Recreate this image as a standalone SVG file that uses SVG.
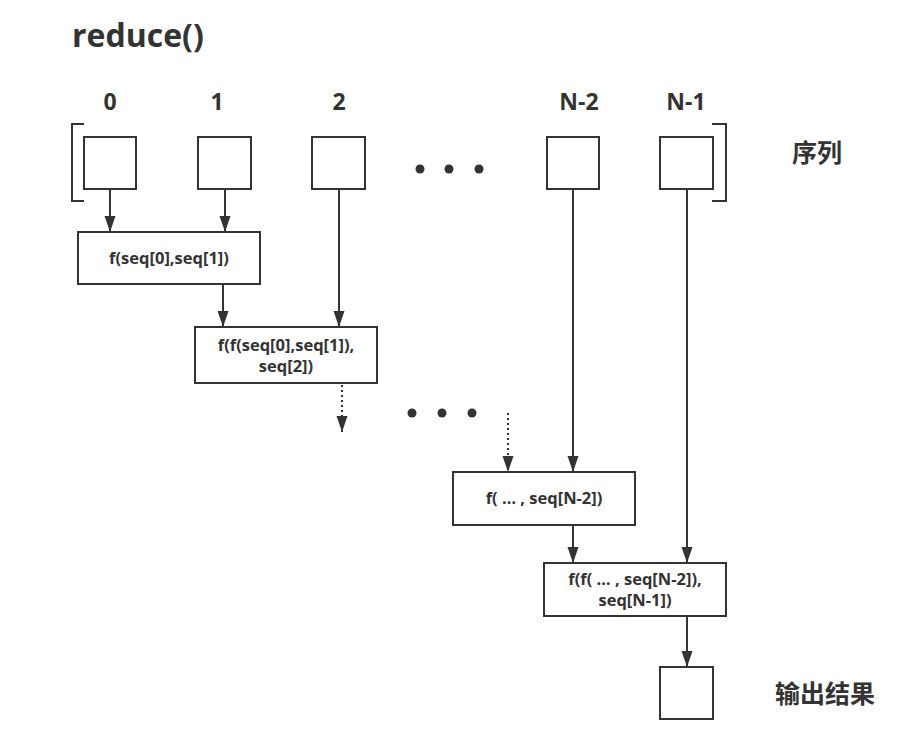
<svg xmlns="http://www.w3.org/2000/svg" width="910" height="752" viewBox="0 0 910 752">
<style>
.box{fill:#fff;stroke:#333;stroke-width:2}
.ln{fill:none;stroke:#333;stroke-width:2}
.dot{fill:none;stroke:#333;stroke-width:2;stroke-dasharray:2 3}
.t{font-family:"Open Sans","Noto Sans CJK SC",sans-serif;font-weight:bold;fill:#333;text-anchor:middle}
.idx{font-size:23px}
.bt{font-size:16.5px}
.cjk{font-family:"Noto Sans CJK SC",sans-serif;font-weight:bold;fill:#333;font-size:25px}
</style>
<defs>
<marker id="ah" markerUnits="userSpaceOnUse" markerWidth="17" markerHeight="12" refX="16" refY="6" orient="auto" viewBox="0 0 17 12">
<path d="M0,0.5 L16,6 L0,11.5 Z" fill="#333"/>
</marker>
</defs>
<rect width="910" height="752" fill="#fff"/>
<text x="72" y="47" font-family="Open Sans, sans-serif" font-weight="bold" font-size="32" fill="#333">reduce()</text>
<g id="labels">
<text class="t idx" x="110" y="110">0</text>
<text class="t idx" x="217" y="110">1</text>
<text class="t idx" x="339" y="110">2</text>
<text class="t idx" x="579" y="110">N-2</text>
<text class="t idx" x="686" y="110">N-1</text>
<text class="cjk" x="792" y="162">序列</text>
<text class="cjk" x="775" y="703" font-size="28">输出结果</text>
</g>
<g id="brackets">
<path class="ln" d="M84,124 H72 V201 H84"/>
<path class="ln" d="M712,124 H726 V201 H712"/>
</g>
<g id="seq0"><rect class="box" x="84" y="137" width="52" height="52"/></g>
<g id="seq1"><rect class="box" x="198" y="137" width="53" height="52"/></g>
<g id="seq2"><rect class="box" x="312" y="137" width="53" height="52"/></g>
<g id="seqN2"><rect class="box" x="547" y="137" width="52" height="52"/></g>
<g id="seqN1"><rect class="box" x="660" y="137" width="53" height="52"/></g>
<g id="ellipsis1" fill="#333">
<circle cx="420" cy="169" r="4.5"/><circle cx="449" cy="169" r="4.5"/><circle cx="479" cy="169" r="4.5"/>
</g>
<g id="ellipsis2" fill="#333">
<circle cx="412" cy="413" r="4.5"/><circle cx="442" cy="413" r="4.5"/><circle cx="472" cy="413" r="4.5"/>
</g>
<g id="f1"><rect class="box" x="78" y="232" width="182" height="52"/>
<text class="t bt" x="169" y="264">f(seq[0],seq[1])</text></g>
<g id="f2"><rect class="box" x="195" y="327" width="182" height="56"/>
<text class="t bt" x="286" y="351">f(f(seq[0],seq[1]),</text>
<text class="t bt" x="286" y="372">seq[2])</text></g>
<g id="fN2"><rect class="box" x="453" y="472" width="182" height="53"/>
<text class="t bt" x="544" y="504">f( … , seq[N-2])</text></g>
<g id="fN1"><rect class="box" x="544" y="563" width="182" height="53"/>
<text class="t bt" x="635" y="585">f(f( … , seq[N-2]),</text>
<text class="t bt" x="635" y="606">seq[N-1])</text></g>
<g id="out"><rect class="box" x="660" y="667" width="53" height="52"/></g>
<g id="connectors">
<line class="ln" x1="110" y1="189" x2="110" y2="232" marker-end="url(#ah)"/>
<line class="ln" x1="225" y1="189" x2="225" y2="232" marker-end="url(#ah)"/>
<line class="ln" x1="339" y1="189" x2="339" y2="327" marker-end="url(#ah)"/>
<line class="ln" x1="223" y1="284" x2="223" y2="327" marker-end="url(#ah)"/>
<line class="dot" x1="342" y1="385" x2="342" y2="432" marker-end="url(#ah)"/>
<line class="dot" x1="508" y1="413" x2="508" y2="472" marker-end="url(#ah)"/>
<line class="ln" x1="573" y1="189" x2="573" y2="472" marker-end="url(#ah)"/>
<line class="ln" x1="687" y1="189" x2="687" y2="563" marker-end="url(#ah)"/>
<line class="ln" x1="573" y1="525" x2="573" y2="563" marker-end="url(#ah)"/>
<line class="ln" x1="687" y1="616" x2="687" y2="667" marker-end="url(#ah)"/>
</g>
</svg>
